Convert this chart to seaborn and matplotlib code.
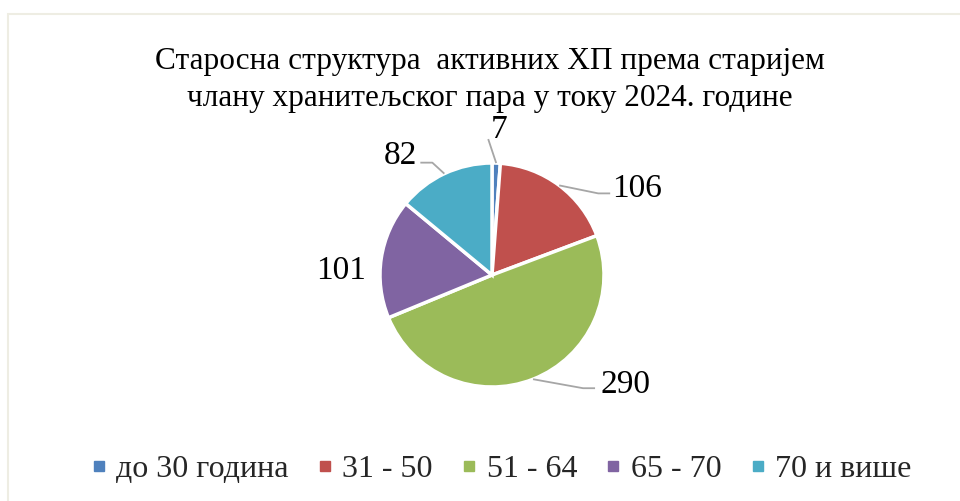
import numpy as np
import matplotlib
matplotlib.use('Agg')
import matplotlib.pyplot as plt
from matplotlib.lines import Line2D
from matplotlib.patches import Rectangle
import seaborn as sns

sns.set_style('white')
plt.rcParams['font.family'] = ['Liberation Serif', 'DejaVu Serif']

title = 'Старосна структура  активних ХП према старијем\nчлану хранитељског пара у току 2024. године'
categories = ['до 30 година', '31 - 50', '51 - 64', '65 - 70', '70 и више']
values = [7, 106, 290, 101, 82]
colors = ['#4F81BD', '#C0504D', '#9BBB59', '#8064A2', '#4BACC6']

W, H = 960, 501
fig = plt.figure(figsize=(W / 100, H / 100), dpi=100)
ax = fig.add_axes([0, 0, 1, 1])

# chart area border (only top/left are visible in the crop)
ax.add_patch(Rectangle((8, -20), W + 20, H - 14 + 20, fill=False,
                       edgecolor='#EEEDE3', linewidth=1.5))

cx, cy, R = 492, 226, 112
wedges, _ = ax.pie(values, colors=colors, startangle=90, counterclock=False,
                   center=(cx, cy), radius=R, frame=True,
                   wedgeprops=dict(edgecolor='white', linewidth=2.5))
ax.set_xlim(0, W)
ax.set_ylim(0, H)
ax.set_aspect('equal')
ax.axis('off')

# label layout: leader points as offsets from the wedge edge, text anchor
layout = [
    dict(pts=[(0, 0), (-8, 24)], txt=(3, 18), ha='center', va='bottom'),
    dict(pts=[(0, 0), (39, -8), (51, -8)], txt=(53, -3), ha='left', va='center'),
    dict(pts=[(0, 0), (50, -9), (62, -9)], txt=(67, -6), ha='left', va='center'),
    dict(pts=None, txt=(-40, -12), ha='center', va='center'),
    dict(pts=[(0, 0), (-12, 11), (-24, 11)], txt=(-27, 18), ha='right', va='center'),
]

for w, v, lay in zip(wedges, values, layout):
    mid = np.deg2rad((w.theta1 + w.theta2) / 2)
    ex, ey = cx + R * np.cos(mid), cy + R * np.sin(mid)
    if lay['pts']:
        px = [ex + dx for dx, dy in lay['pts']]
        py = [ey + dy for dx, dy in lay['pts']]
        ax.plot(px, py, color='#A6A6A6', linewidth=1.3, solid_capstyle='butt')
    ax.text(ex + lay['txt'][0], ey + lay['txt'][1], str(v), fontsize=24,
            ha=lay['ha'], va=lay['va'], color='black')

ax.text(490, 421, title, fontsize=22.5, ha='center', va='center',
        linespacing=1.38, color='black')

handles = [Line2D([], [], marker='s', linestyle='none', markersize=7,
                  markerfacecolor=c, markeredgecolor=c) for c in colors]
fig.legend(handles, categories, loc='center', bbox_to_anchor=(0.522, 0.063),
           ncol=5, frameon=False, fontsize=23, handlelength=0.5,
           handletextpad=0.3, columnspacing=0.88)

fig.savefig('out.png', dpi=100)
